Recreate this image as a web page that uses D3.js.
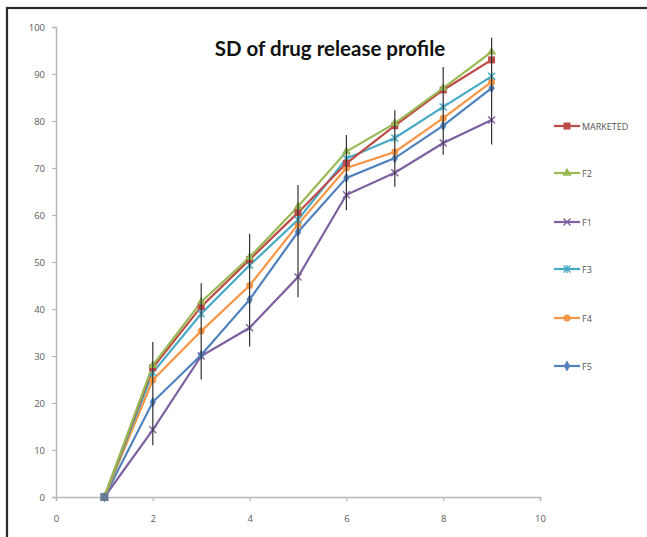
<!DOCTYPE html>
<html><head><meta charset="utf-8">
<script src="https://cdn.jsdelivr.net/npm/d3@7"></script>
<style>body{margin:0;background:#fff}svg{display:block}</style>
</head><body>
<script>
const xValues = [1,2,3,4,5,6,7,8,9];
const seriesNames = ["MARKETED","F2","F1","F3","F4","F5"];
const marketed = [0,27.5,40.5,50.5,60.5,71,79,86.6,93];
const f2 = [0,28,41.5,51,61.8,73.5,79.5,87,94.7];
const f1 = [0,14.3,30,36,46.8,64.3,69,75.3,80.2];
const f3 = [0,26.5,39,49.3,59,72,76.4,83,89.5];
const f4 = [0,24.9,35.3,45,58,70,73.4,80.6,88.3];
const f5 = [0,20.2,30.2,42,56.4,67.9,72.1,79,87];
const errHigh = [0,33,45.5,56,66.4,77,82.3,91.5,97.7];
const errLow = [0,11,25,32,42.5,61,66,72.8,75];
const xTicks = [0,2,4,6,8,10];
const yTicks = [0,10,20,30,40,50,60,70,80,90,100];
const colors = ["#BE4B48","#98B954","#7D60A0","#46AAC5","#F79646","#4F81BD"];
const symbols = ["square","triangle","cross","star","circle","diamond"];
const allSeries = [marketed,f2,f1,f3,f4,f5];

const W=647,H=537;
const svg=d3.select("body").append("svg").attr("width",W).attr("height",H);
svg.append("rect").attr("x",7).attr("y",8).attr("width",700).attr("height",600)
  .attr("fill","#fff").attr("stroke","#2a2a2a").attr("stroke-width",2.2);

const x=d3.scaleLinear().domain([0,10]).range([56,540]);
const y=d3.scaleLinear().domain([0,100]).range([497,27]);

const font="'Open Sans', 'DejaVu Sans', sans-serif";
const ya=svg.append("g").attr("transform",`translate(${x(0)},0)`)
  .call(d3.axisLeft(y).tickValues(yTicks).tickSize(4).tickPadding(7));
const xa=svg.append("g").attr("transform",`translate(0,${y(0)})`)
  .call(d3.axisBottom(x).tickValues(xTicks).tickSize(4).tickPadding(14));
[ya,xa].forEach(a=>{
  a.select(".domain").attr("stroke","#b8b8b8").attr("stroke-width",1.5);
  a.selectAll(".tick line").attr("stroke","#b8b8b8").attr("stroke-width",1.2);
  a.selectAll(".tick text").attr("fill","#5a5a5a").style("font-family",font).style("font-size","9.5px");
});

svg.append("text").attr("x",330).attr("y",56).attr("text-anchor","middle")
  .style("font-family","Lato, 'Open Sans', sans-serif").style("font-weight","bold")
  .style("font-size","20.5px").attr("fill","#111").text("SD of drug release profile");

function marker(g,sym,cx,cy,col){
  if(sym==="square") g.append("rect").attr("x",cx-3.5).attr("y",cy-3.5).attr("width",7).attr("height",7).attr("fill",col);
  else if(sym==="triangle") g.append("path").attr("d",d3.symbol(d3.symbolTriangle,36)()).attr("transform",`translate(${cx},${cy})`).attr("fill",col);
  else if(sym==="circle") g.append("circle").attr("cx",cx).attr("cy",cy).attr("r",3.5).attr("fill",col);
  else if(sym==="diamond") g.append("path").attr("d",d3.symbol(d3.symbolDiamond,34)()).attr("transform",`translate(${cx},${cy})`).attr("fill",col);
  else if(sym==="cross"){
    g.append("path").attr("d",`M${cx-3.5},${cy-3.5}L${cx+3.5},${cy+3.5}M${cx-3.5},${cy+3.5}L${cx+3.5},${cy-3.5}`).attr("stroke",col).attr("stroke-width",1.4);
  } else if(sym==="star"){
    g.append("path").attr("d",`M${cx-3.5},${cy-3.5}L${cx+3.5},${cy+3.5}M${cx-3.5},${cy+3.5}L${cx+3.5},${cy-3.5}M${cx},${cy-4}L${cx},${cy+4}`).attr("stroke",col).attr("stroke-width",1.4);
  }
}

const line=d3.line().x((d,i)=>x(xValues[i])).y(d=>y(d));
const order=[2,5,4,3,0,1];
order.forEach(si=>{
  svg.append("path").datum(allSeries[si]).attr("d",line).attr("fill","none")
    .attr("stroke",colors[si]).attr("stroke-width",2.2);
});
order.forEach(si=>{
  const g=svg.append("g");
  allSeries[si].forEach((v,i)=>marker(g,symbols[si],x(xValues[i]),y(v),colors[si]));
});
xValues.forEach((xv,i)=>{
  if(errHigh[i]===errLow[i]) return;
  svg.append("line").attr("x1",x(xv)).attr("x2",x(xv)).attr("y1",y(errHigh[i])).attr("y2",y(errLow[i]))
    .attr("stroke","#333").attr("stroke-width",1.2);
});
svg.append("rect").attr("x",x(1)-4).attr("y",y(0)-4).attr("width",8).attr("height",8).attr("fill","#6a7a9a");

const legY=[126,173,222,269,318,366];
seriesNames.forEach((n,i)=>{
  const g=svg.append("g");
  g.append("line").attr("x1",554).attr("x2",580).attr("y1",legY[i]).attr("y2",legY[i]).attr("stroke",colors[i]).attr("stroke-width",2.2);
  marker(g,symbols[i],567,legY[i],colors[i]);
  g.append("text").attr("x",582).attr("y",legY[i]+3.5).text(n)
    .style("font-family",font).style("font-size","9px").attr("fill","#555");
});
</script>
</body></html>
